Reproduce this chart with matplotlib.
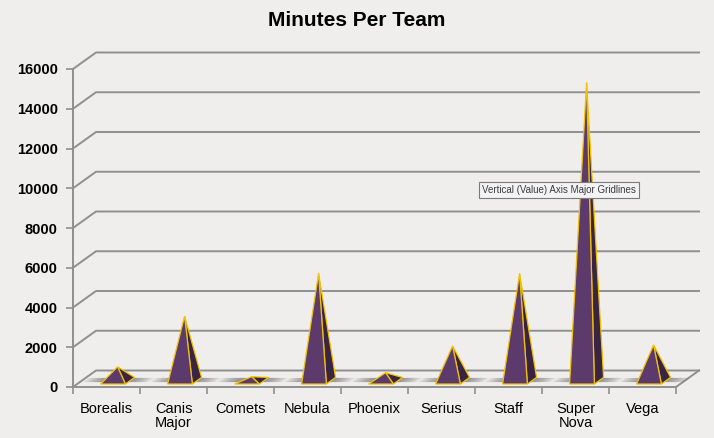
import matplotlib.pyplot as plt
import numpy as np
from matplotlib.patches import Polygon

teams = ['Borealis', 'Canis\nMajor', 'Comets', 'Nebula', 'Phoenix', 'Serius', 'Staff', 'Super\nNova', 'Vega']
minutes = [700, 3250, 200, 5400, 400, 1750, 5400, 15000, 1800]
yticks = [0, 2000, 4000, 6000, 8000, 10000, 12000, 14000, 16000]

bg = '#efeeec'
grid_col = '#8f8f8f'
front_col = '#5c3b6c'
side_col = '#3a2443'
edge_col = '#f2c200'

plt.rcParams['font.family'] = ['Liberation Sans', 'DejaVu Sans']

fig = plt.figure(figsize=(7.14, 4.38), dpi=100, facecolor=bg)
ax = fig.add_axes([73/714, 51/438, 603/714, 318/438])
ax.set_facecolor('none')
ax.set_xlim(0, len(teams))
ax.set_ylim(0, 16000)

# depth of the 3d box, in data units
DX = 23/67
DY = 16.5/318*16000

def proj(x, y, d):
    return (x + d*DX, y + d*DY)

# walls: gridlines with diagonal on the left side wall
for v in yticks:
    pts = [proj(0, v, 0), proj(0, v, 1), proj(len(teams), v, 1)]
    xs, ys = zip(*pts)
    ax.plot(xs, ys, color=grid_col, lw=1.4, clip_on=False, zorder=1)
# right edge of the floor
xs, ys = zip(proj(len(teams), 0, 0), proj(len(teams), 0, 1))
ax.plot(xs, ys, color=grid_col, lw=1.4, clip_on=False, zorder=1)

for sp in ['top', 'right']:
    ax.spines[sp].set_visible(False)
for sp in ['left', 'bottom']:
    ax.spines[sp].set_color(grid_col)
    ax.spines[sp].set_linewidth(1.4)
    ax.spines[sp].set_zorder(2)

ax.set_yticks(yticks)
ax.set_yticklabels([str(v) for v in yticks], fontweight='bold', fontsize=10.5)
ax.set_xticks(np.arange(len(teams) + 1))
ax.set_xticklabels([])
ax.set_xticks(np.arange(len(teams)) + 0.5, minor=True)
ax.set_xticklabels(teams, minor=True, fontsize=10.5, linespacing=1.0)
ax.tick_params(axis='y', length=5, width=1.2, color=grid_col, pad=6)
ax.tick_params(axis='x', which='major', length=5, width=1.2, color=grid_col)
ax.tick_params(axis='x', which='minor', length=0, pad=11)

# pyramids
hw = 0.185
d0, d1 = 0.18, 0.58
dm = (d0 + d1) / 2
for i, v in enumerate(minutes):
    c = i + 0.5 + 0.035
    # blurred shadow band on the floor
    for k in range(6):
        w = hw + 0.30 - k*0.05
        sh = [proj(c - w, 0, 0.30), proj(c + w, 0, 0.30),
              proj(c + w, 0, 0.55), proj(c - w, 0, 0.55)]
        ax.add_patch(Polygon(sh, closed=True, facecolor='#5a5a5a', edgecolor='none',
                             alpha=0.13, clip_on=False, zorder=3))
    apex = proj(c, v, dm)
    fl = proj(c - hw, 0, d0)
    fr = proj(c + hw, 0, d0)
    br = proj(c + hw, 0, d1)
    ax.add_patch(Polygon([fr, br, apex], closed=True, facecolor=side_col,
                         edgecolor=edge_col, lw=0.9, clip_on=False, zorder=4))
    ax.add_patch(Polygon([fl, fr, apex], closed=True, facecolor=front_col,
                         edgecolor=edge_col, lw=0.9, clip_on=False, zorder=5))

fig.text(357/714, 1 - 20/438, 'Minutes Per Team', ha='center', va='center',
         fontsize=15, fontweight='bold')

# hover tooltip from the screenshot
fig.text(559/714, 1 - 190/438, 'Vertical (Value) Axis Major Gridlines', ha='center', va='center',
         fontsize=7, color='#3c3c3c', zorder=10,
         bbox=dict(boxstyle='square,pad=0.35', facecolor='#f3f3f6', edgecolor='#7a7a7a', lw=0.8))

fig.savefig('out.png', dpi=100, facecolor=bg)
